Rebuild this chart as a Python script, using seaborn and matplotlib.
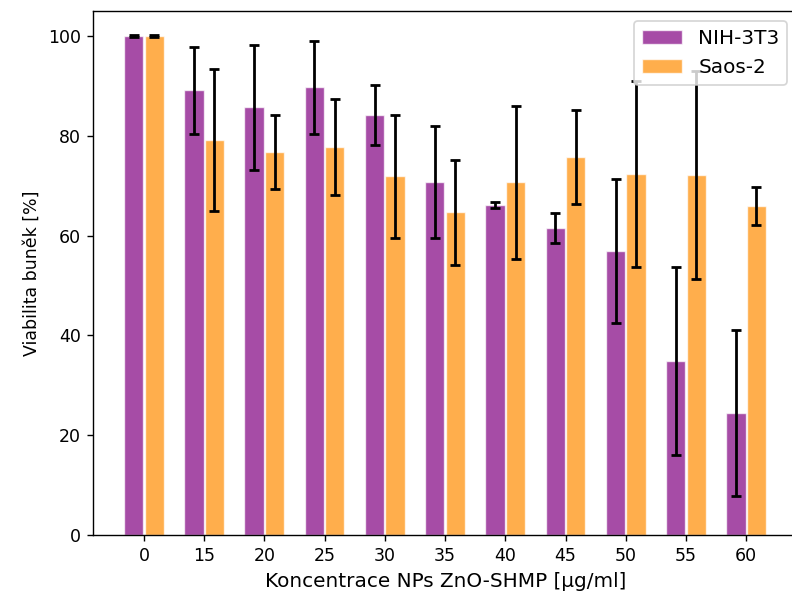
import matplotlib
matplotlib.use("Agg")
import matplotlib.pyplot as plt
import numpy as np
import pandas as pd
import seaborn as sns

# ---- data ----
concentrations = ["0", "15", "20", "25", "30", "35", "40", "45", "50", "55", "60"]
series_names = ["NIH-3T3", "Saos-2"]
nih_mean = [100.0, 89.1, 85.7, 89.7, 84.1, 70.7, 66.1, 61.6, 56.9, 34.9, 24.4]
nih_err = [0.2, 8.7, 12.5, 9.3, 6.0, 11.2, 0.6, 3.0, 14.5, 18.8, 16.6]
saos_mean = [100.0, 79.2, 76.7, 77.8, 71.9, 64.7, 70.7, 75.8, 72.4, 72.1, 65.9]
saos_err = [0.2, 14.2, 7.4, 9.6, 12.3, 10.5, 15.3, 9.4, 18.6, 20.9, 3.8]
series_colors = ["purple", "darkorange"]

x_label = "Koncentrace NPs ZnO-SHMP [µg/ml]"
y_label = "Viabilita buněk [%]"

df = pd.DataFrame({
    "conc": concentrations * 2,
    "viab": nih_mean + saos_mean,
    "line": [series_names[0]] * len(concentrations) + [series_names[1]] * len(concentrations),
})

W, H, DPI = 792, 595, 125
fig = plt.figure(figsize=(W / DPI, H / DPI), dpi=DPI)
ax = fig.add_axes([93.3 / W, 60 / H, (797.4 - 93.3) / W, (535 - 11) / H])

sns.barplot(
    data=df, x="conc", y="viab", hue="line",
    order=concentrations, hue_order=series_names,
    palette=series_colors, saturation=1, alpha=0.7,
    width=0.68, gap=0.06, errorbar=None,
    edgecolor="white", linewidth=0.8, ax=ax,
)

# error bars at the centres of the drawn bars
for container, means, errs in zip(ax.containers, [nih_mean, saos_mean], [nih_err, saos_err]):
    xs = [p.get_x() + p.get_width() / 2 for p in container.patches]
    ax.errorbar(xs, means, yerr=errs, fmt="none", ecolor="black",
                elinewidth=1.6, capsize=2.8, capthick=1.6)

ax.set_xlim(-0.84, 10.85)
ax.set_ylim(0, 105)
ax.set_xlabel(x_label, fontsize=11.5)
ax.set_ylabel(y_label, fontsize=10)

handles, labels = ax.get_legend_handles_labels()
ax.legend(handles, labels, loc="upper right", title=None, fontsize=11.5)

fig.savefig("out.png", dpi=DPI)
